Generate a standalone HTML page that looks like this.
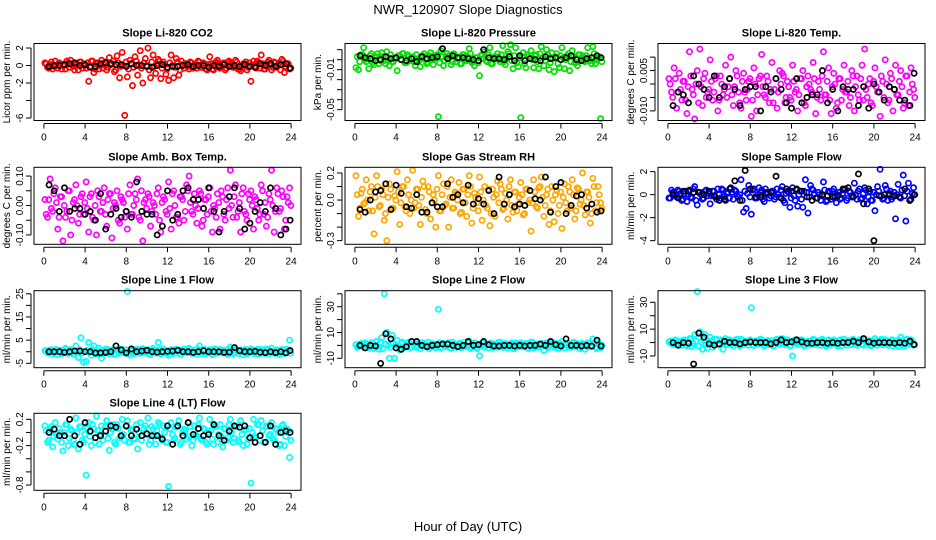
<!DOCTYPE html>
<html><head><meta charset="utf-8"><style>
body{margin:0;background:#fff}
svg{display:block;font-family:"Liberation Sans",sans-serif}
</style></head><body>
<svg id="chart" width="936" height="540" viewBox="0 0 936 540">
<text x="468" y="14" text-anchor="middle" font-size="13">NWR_120907  Slope Diagnostics</text>
<text x="468" y="531" text-anchor="middle" font-size="13">Hour of Day (UTC)</text>
</svg>
<script>
const hoursA=[0.1,0.35,0.6,0.85,1.1,1.35,1.6,1.85,2.1,2.35,2.6,2.85,3.1,3.35,3.6,3.85,4.1,4.35,4.6,4.85,5.1,5.35,5.6,5.85,6.1,6.35,6.6,6.85,7.1,7.35,7.6,7.85,8.1,8.35,8.6,8.85,9.1,9.35,9.6,9.85,10.1,10.35,10.6,10.85,11.1,11.35,11.6,11.85,12.1,12.35,12.6,12.85,13.1,13.35,13.6,13.85,14.1,14.35,14.6,14.85,15.1,15.35,15.6,15.85,16.1,16.35,16.6,16.85,17.1,17.35,17.6,17.85,18.1,18.35,18.6,18.85,19.1,19.35,19.6,19.85,20.1,20.35,20.6,20.85,21.1,21.35,21.6,21.85,22.1,22.35,22.6,22.85,23.1,23.35,23.6,23.85];
const hoursC=[0.22,0.47,0.72,0.97,1.22,1.47,1.72,1.97,2.22,2.47,2.72,2.97,3.22,3.47,3.72,3.97,4.22,4.47,4.72,4.97,5.22,5.47,5.72,5.97,6.22,6.47,6.72,6.97,7.22,7.47,7.72,7.97,8.22,8.47,8.72,8.97,9.22,9.47,9.72,9.97,10.22,10.47,10.72,10.97,11.22,11.47,11.72,11.97,12.22,12.47,12.72,12.97,13.22,13.47,13.72,13.97,14.22,14.47,14.72,14.97,15.22,15.47,15.72,15.97,16.22,16.47,16.72,16.97,17.22,17.47,17.72,17.97,18.22,18.47,18.72,18.97,19.22,19.47,19.72,19.97,20.22,20.47,20.72,20.97,21.22,21.47,21.72,21.97,22.22,22.47,22.72,22.97,23.22,23.47,23.72,23.97];
const hoursB=[0.5,1,1.5,2,2.5,3,3.5,4,4.5,5,5.5,6,6.5,7,7.5,8,8.5,9,9.5,10,10.5,11,11.5,12,12.5,13,13.5,14,14.5,15,15.5,16,16.5,17,17.5,18,18.5,19,19.5,20,20.5,21,21.5,22,22.5,23,23.5,23.9];
const xTicks=[0,4,8,12,16,20,24];

const co2All=[0.3,-0.2,0.1,-0.4,0.5,-0.3,0.2,0.0,-0.4,0.3,0.6,-0.1,0.2,-0.5,0.4,0.1,-0.3,-1.8,0.5,-0.8,0.3,-0.4,0.6,0.1,-0.5,0.9,0.2,-0.7,1.1,-1.4,1.5,-5.7,-1.3,0.6,-2.3,1.0,-1.1,1.7,-2.0,0.8,2.0,-1.4,1.2,-0.9,0.7,-1.5,0.4,-1.0,-1.7,1.2,-1.4,0.8,-1.1,0.5,-0.3,0.2,-0.4,0.3,0.1,-0.3,0.4,-0.2,0.2,-0.5,1.0,-0.4,0.3,0.6,-0.3,0.2,-0.5,0.4,0.3,-0.2,0.6,-0.4,-0.6,0.2,0.4,-0.2,-1.8,0.5,-0.3,0.3,1.2,-0.4,0.2,0.6,-0.5,0.4,-0.2,0.3,0.7,-0.8,0.2,-0.4];
const co2Core=[2,-3,4,-1,0,3,-4,1,5,-2,2,-5,1,4,-3,0,3,-1,5,-4,2,0,-3,4,-2,1,5,-5,3,-1,0,4,-4,2,-2,5,1,-3,3,0,-5,4,-1,2,5,-3,1,-4,3,0,-2,4,-5,1,2,-1,4,-3,0,5,-2,3,-4,1,2,-5,4,0,-1,3,-3,5,1,-2,4,-4,0,2,-5,3,1,-1,5,-3,2,-4,4,0,-2,3,1,-5,5,-1,2,-3];
const co2Sel=[-0.1,0.0,0.0,0.1,0.2,0.3,0.0,0.1,-0.2,-0.1,0.2,0.3,0.2,0.1,0.1,-0.1,0.2,0.0,0.0,-0.1,-0.2,0.0,0.1,-0.2,-0.1,-0.1,0.0,0.1,-0.1,0.0,0.0,-0.2,0.0,-0.1,0.1,-0.1,0.0,-0.1,0.1,-0.1,-0.2,0.2,0.0,0.2,-0.1,0.1,0.2,-0.3];
const presAll=[-0.008,-0.010,0.005,0.012,-0.002,-0.009,0.006,-0.005,0.003,-0.004,0.007,-0.001,0.008,-0.006,-0.002,0.001,-0.011,0.004,0.006,-0.003,0.005,-0.001,0.003,-0.006,0.001,-0.007,0.004,0.000,-0.003,0.007,-0.005,0.002,-0.057,0.009,-0.006,0.003,0.004,-0.005,0.006,-0.002,0.002,-0.004,0.005,-0.001,0.011,-0.003,-0.006,0.002,-0.016,0.005,0.008,-0.002,0.012,-0.004,0.003,0.006,-0.002,0.014,-0.005,0.008,0.015,-0.009,0.012,-0.007,-0.058,0.007,-0.008,0.003,0.009,-0.008,0.005,-0.009,0.013,-0.006,0.010,-0.010,0.007,-0.012,0.006,-0.008,0.012,-0.009,0.004,-0.011,0.009,-0.003,-0.006,0.005,0.004,-0.002,0.012,-0.001,0.013,-0.004,0.002,-0.059];
const presCore=[3,-2,5,0,1,4,-3,2,6,-1,3,-4,2,5,-2,1,4,0,6,-3,3,1,-2,5,-1,2,6,-4,4,0,1,5,-3,3,-1,6,2,-2,4,1,-4,5,0,3,6,-2,2,-3,4,1,-1,5,-4,2,3,0,5,-2,1,6,-1,4,-3,2,3,-4,5,1,0,4,-2,6,2,-1,5,-3,1,3,-4,4,2,0,6,-2,3,-3,5,1,-1,4,2,-4,6,0,3,-2];
const presSel=[0.004,0.002,0.001,-0.001,0.000,0.003,0.001,0.002,0.000,-0.001,0.001,-0.002,0.003,0.001,0.002,0.003,0.011,0.001,0.004,0.002,0.002,0.001,0.000,-0.001,0.010,0.002,0.001,0.001,0.000,0.003,-0.001,0.004,-0.001,0.001,0.000,-0.001,0.003,0.001,0.002,0.000,0.002,0.004,0.000,-0.001,0.001,0.002,0.004,0.002];
const lTempAll=[0.002,-0.003,0.006,-0.009,0.004,-0.006,0.001,-0.011,0.012,-0.002,-0.013,0.005,0.013,-0.008,0.004,-0.003,0.009,-0.006,0.002,-0.010,0.003,-0.004,0.007,-0.001,0.010,-0.008,0.005,-0.003,-0.009,0.004,-0.006,0.001,-0.012,0.006,-0.010,0.002,0.011,-0.004,0.003,-0.007,0.008,-0.002,-0.009,0.005,0.004,-0.007,0.001,-0.005,0.007,-0.003,-0.010,0.002,0.005,-0.008,0.003,-0.002,0.008,-0.011,0.001,-0.006,0.012,-0.004,0.006,-0.011,0.004,-0.009,0.002,-0.006,0.007,-0.003,-0.008,0.005,-0.010,0.003,-0.006,0.007,0.013,-0.005,0.002,-0.008,0.006,-0.003,-0.012,0.001,0.009,-0.007,0.004,-0.010,0.007,-0.004,0.005,-0.009,0.003,-0.008,0.006,-0.002];
const lTempCore=[0,-5,2,-3,-2,1,-6,-1,3,-4,0,-7,-1,2,-5,-2,1,-3,3,-6,0,-2,-5,2,-4,-1,3,-7,1,-3,-2,2,-6,0,-4,3,-1,-5,1,-2,-7,2,-3,0,3,-5,-1,-6,1,-2,-4,2,-7,-1,0,-3,2,-5,-2,3,-4,1,-6,-1,0,-7,2,-2,-3,1,-5,3,-1,-4,2,-6,-2,0,-7,1,-1,-3,3,-5,0,-6,2,-2,-4,1,-1,-7,3,-3,0,-5];
const lTempSel=[-0.008,-0.003,-0.004,-0.007,0.003,0.000,-0.002,-0.005,0.003,-0.005,-0.001,0.002,-0.002,-0.008,-0.002,-0.001,-0.001,-0.010,-0.001,-0.003,0.002,-0.002,-0.007,-0.009,0.002,-0.007,-0.005,-0.004,-0.004,0.005,-0.007,-0.002,-0.010,-0.001,-0.002,-0.002,-0.008,-0.001,-0.009,0.000,-0.003,-0.006,-0.001,-0.002,-0.006,-0.006,-0.008,0.004];
const ambAll=[0.02,-0.04,0.09,-0.02,0.06,-0.08,0.03,-0.12,-0.04,0.05,-0.10,0.01,0.07,-0.06,0.03,-0.03,0.08,-0.09,0.04,-0.05,-0.10,0.03,-0.02,0.06,-0.07,0.04,-0.11,0.01,0.05,-0.06,0.02,-0.04,-0.08,0.07,-0.03,0.04,0.09,-0.05,-0.12,0.02,0.04,-0.07,0.01,-0.03,0.06,-0.09,0.03,-0.02,0.08,-0.08,0.05,-0.04,-0.06,0.03,-0.05,0.07,0.10,-0.02,0.04,-0.06,0.05,-0.07,0.02,-0.03,0.06,-0.09,-0.01,0.04,-0.08,0.03,-0.05,0.06,0.12,-0.04,0.07,-0.02,-0.09,0.06,-0.03,0.04,0.05,-0.08,0.02,-0.05,0.07,-0.03,-0.07,0.04,0.12,-0.09,0.06,-0.02,0.05,-0.08,0.03,0.06];
const ambCore=[-3,2,-1,4,1,-4,3,0,-2,5,-5,2,0,-3,4,1,-1,3,-4,0,5,-2,1,-3,2,4,-1,0,-5,3,1,-2,4,-3,0,2,-4,5,1,-1,3,-2,0,4,-5,1,2,-3,-1,4,0,-4,3,2,-2,5,1,-3,0,-1,4,-5,2,3,-2,0,-4,1,5,-3,2,-1,0,3,-4,1,4,-2,-5,2,0,3,-1,-3,5,1,-4,2,0,-2,4,-1,3,-5,1,0];
const ambSel=[0.07,0.05,-0.02,0.06,-0.02,-0.01,-0.01,-0.03,-0.02,-0.05,0.04,-0.08,-0.03,-0.01,-0.04,-0.02,-0.04,0.08,-0.02,-0.03,-0.03,-0.10,-0.07,0.05,-0.05,-0.03,0.05,0.06,0.02,0.02,-0.01,0.06,-0.02,-0.09,-0.02,0.03,0.06,-0.01,-0.08,-0.06,-0.02,0.01,-0.02,0.06,-0.01,-0.10,-0.08,-0.05];
const rhAll=[0.18,-0.12,0.05,-0.03,0.15,-0.08,0.10,-0.25,0.18,-0.05,0.08,-0.15,-0.30,0.12,-0.06,0.03,0.21,-0.18,0.10,-0.05,0.15,-0.10,0.22,-0.02,0.08,-0.18,0.14,-0.07,0.10,-0.14,0.04,-0.20,0.18,-0.08,0.12,-0.03,-0.20,0.15,-0.06,0.05,0.13,-0.09,0.08,-0.12,0.18,-0.17,0.05,-0.02,0.17,-0.15,0.10,-0.06,-0.19,0.08,-0.12,0.14,0.12,-0.07,0.05,-0.14,0.15,-0.09,0.06,-0.03,0.13,-0.11,0.08,-0.02,-0.23,0.15,-0.05,0.09,0.17,-0.12,0.04,-0.18,0.10,-0.16,0.07,-0.04,-0.21,0.12,-0.08,0.06,0.15,-0.14,0.09,-0.03,0.20,-0.11,0.06,-0.17,0.16,-0.08,0.10,-0.02];
const rhCore=[2,-3,4,-1,0,3,-4,1,5,-2,2,-5,1,4,-3,0,3,-1,5,-4,2,0,-3,4,-2,1,5,-5,3,-1,0,4,-4,2,-2,5,1,-3,3,0,-5,4,-1,2,5,-3,1,-4,3,0,-2,4,-5,1,2,-1,4,-3,0,5,-2,3,-4,1,2,-5,4,0,-1,3,-3,5,1,-2,4,-4,0,2,-5,3,1,-1,5,-3,2,-4,4,0,-2,3,1,-5,5,-1,2,-3];
const rhSel=[-0.07,-0.09,0.00,0.06,0.07,0.12,-0.07,0.11,0.05,-0.05,-0.06,0.04,-0.09,-0.09,-0.02,-0.05,-0.05,0.12,0.02,0.04,-0.02,0.11,-0.03,0.01,-0.03,0.07,-0.10,0.17,-0.03,0.04,-0.05,-0.03,-0.04,0.07,0.01,0.00,0.17,-0.09,0.10,0.13,-0.10,-0.04,0.03,0.04,-0.06,-0.03,-0.09,-0.08];
const sampAll=[-0.3,0.4,0.2,-0.2,0.3,-0.5,0.1,-0.6,0.4,-0.3,0.7,-0.9,0.2,-0.4,0.3,-0.1,-0.8,0.3,-0.2,0.5,-0.3,0.4,-0.5,0.2,0.6,-0.4,0.3,-0.2,1.3,-1.5,-1.2,0.8,-1.7,0.5,-0.3,0.6,0.4,-0.6,0.2,-0.3,0.3,-0.4,0.5,-0.2,0.7,-0.7,0.3,-1.1,0.6,-0.5,-1.0,0.3,-1.1,1.3,-1.6,0.8,0.4,-0.3,0.2,-0.5,1.1,-0.6,0.3,-0.4,0.5,-0.7,0.2,-0.3,0.4,-0.5,0.3,-0.2,1.0,-0.4,0.5,-0.3,0.6,-0.8,0.3,-0.5,-1.4,0.7,2.2,-0.4,0.8,-0.5,0.3,-0.2,-2.1,0.9,-0.3,1.7,-2.3,1.0,-0.4,0.6];
const sampCore=[-3,2,-1,4,1,-4,3,0,-2,5,-5,2,0,-3,4,1,-1,3,-4,0,5,-2,1,-3,2,4,-1,0,-5,3,1,-2,4,-3,0,2,-4,5,1,-1,3,-2,0,4,-5,1,2,-3,-1,4,0,-4,3,2,-2,5,1,-3,0,-1,4,-5,2,3,-2,0,-4,1,5,-3,2,-1,0,3,-4,1,4,-2,-5,2,0,3,-1,-3,5,1,-4,2,0,-2,4,-1,3,-5,1,0];
const sampSel=[0.0,-0.3,0.3,0.3,0.2,0.2,0.0,0.3,-0.1,-0.5,-0.4,0.5,1.2,-0.5,2.1,0.5,-0.2,-0.2,0.1,0.2,1.6,-0.3,0.5,0.3,0.5,0.3,-0.2,-0.5,-0.3,0.0,-0.1,-0.2,-0.1,0.5,0.6,-0.2,1.8,-0.8,0.5,-4.0,-0.1,0.0,0.0,-0.1,-0.2,0.5,-0.5,0.0];
const l1All=[0.5,-0.5,0.8,-1.0,1.0,-1.2,0.6,-0.4,1.5,-0.8,0.9,-1.1,2.5,-2.5,6.0,-4.5,-4.2,4.0,-1.5,2.5,-1.0,1.5,-2.8,0.8,1.2,-0.9,0.5,-1.1,0.8,-0.6,1.0,-0.5,26.0,-1.5,0.6,-0.8,1.0,-0.7,1.3,-0.4,0.9,-1.2,1.5,-0.5,4.0,-1.0,1.2,-0.6,-1.5,0.9,-0.8,1.1,0.7,-1.0,1.2,-0.5,1.5,-0.7,0.8,-1.1,2.5,-0.8,1.0,-0.4,0.9,-1.3,1.2,-0.6,1.0,-0.5,0.7,-1.2,2.0,-0.9,1.1,-0.6,0.8,-1.3,1.0,-0.4,1.2,-0.8,0.6,-1.1,1.0,-0.5,1.2,-0.9,1.6,-0.7,0.8,-1.2,0.9,-0.6,1.1,5.0];
const l1Core=[2,-3,4,-1,0,3,-4,1,5,-2,2,-5,1,4,-3,0,3,-1,5,-4,2,0,-3,4,-2,1,5,-5,3,-1,0,4,-4,2,-2,5,1,-3,3,0,-5,4,-1,2,5,-3,1,-4,3,0,-2,4,-5,1,2,-1,4,-3,0,5,-2,3,-4,1,2,-5,4,0,-1,3,-3,5,1,-2,4,-4,0,2,-5,3,1,-1,5,-3,2,-4,4,0,-2,3,1,-5,5,-1,2,-3];
const l1Sel=[0,0,0,-0.3,0,0.3,0.3,0,0,-0.5,-0.5,-0.3,0,2.5,0.8,-0.5,1.2,0,0.3,0.6,0,-0.2,0,0.2,0.3,0.6,0,0,-0.3,0,0.4,0,0,0,-0.3,-0.2,1.8,0.4,0,0,0.2,-0.2,-0.4,0,-0.4,0,-0.5,0.5];
const l2All=[0.5,-1.0,1.5,-1.5,1.0,-2.0,2.0,-2.5,3.0,-3.0,6.0,40.0,10.0,-10.0,8.0,-10.0,4.0,-3.5,2.5,-1.5,2.0,-2.0,3.0,-1.0,1.5,-2.5,2.0,-1.0,2.5,-1.5,1.0,-2.0,28.0,-2.0,1.5,-1.0,2.0,-2.5,1.0,-1.5,1.5,-2.0,2.5,-1.0,3.0,-1.5,2.0,-2.5,-8.0,2.0,-1.5,1.0,1.5,-2.0,1.0,-1.5,2.5,-1.5,1.5,-2.0,1.0,-2.5,2.0,-1.0,2.0,-1.0,1.5,-2.5,2.5,-2.0,1.0,-1.5,1.5,-4.0,2.0,-1.0,2.0,-1.5,1.5,-2.0,3.0,-2.0,1.0,-1.5,2.0,-1.0,1.5,-2.5,1.5,-3.0,2.0,-1.0,5.0,-1.5,2.0,-2.0];
const l2Core=[-3,2,-1,4,1,-4,3,0,-2,5,-5,2,0,-3,4,1,-1,3,-4,0,5,-2,1,-3,2,4,-1,0,-5,3,1,-2,4,-3,0,2,-4,5,1,-1,3,-2,0,4,-5,1,2,-3,-1,4,0,-4,3,2,-2,5,1,-3,0,-1,4,-5,2,3,-2,0,-4,1,5,-3,2,-1,0,3,-4,1,4,-2,-5,2,0,3,-1,-3,5,1,-4,2,0,-2,4,-1,3,-5,1,0];
const l2Sel=[0,-2,0,-0.5,-14,9,5,-2,-3,-1,3,3,0,-1,0,0.5,1,1,0,-1,0,3,0,0.5,3,0.5,-0.5,-0.5,0,0,-0.5,0,-0.5,0,0,1,0,3,0.5,-0.5,5,0,0,-0.5,0,-0.5,4,-0.5];
const l3All=[0.5,-1.0,1.5,-1.5,1.0,-2.0,2.0,-2.5,3.0,-3.0,6.0,38.0,8.0,-5.0,6.0,-4.0,4.0,-3.5,2.5,-1.5,2.0,-5.0,3.0,-1.0,1.5,-2.5,2.0,-1.0,2.5,-1.5,1.0,-2.0,26.0,-2.0,1.5,-1.0,2.0,-2.5,1.0,-1.5,1.5,-2.0,2.5,-1.0,3.0,-1.5,2.0,-2.5,-10.0,2.0,-1.5,1.0,1.5,-2.0,1.0,-1.5,2.5,-1.5,1.5,-2.0,1.0,-2.5,2.0,-1.0,2.0,-1.0,1.5,-2.5,2.5,-2.0,1.0,-1.5,1.5,-2.0,2.0,-1.0,2.0,-1.5,1.5,-2.0,3.0,-2.0,1.0,-1.5,2.0,-1.0,1.5,-2.5,1.5,-3.0,4.0,-1.0,2.0,-1.5,2.0,-2.0];
const l3Core=[2,-3,4,-1,0,3,-4,1,5,-2,2,-5,1,4,-3,0,3,-1,5,-4,2,0,-3,4,-2,1,5,-5,3,-1,0,4,-4,2,-2,5,1,-3,3,0,-5,4,-1,2,5,-3,1,-4,3,0,-2,4,-5,1,2,-1,4,-3,0,5,-2,3,-4,1,2,-5,4,0,-1,3,-3,5,1,-2,4,-4,0,2,-5,3,1,-1,5,-3,2,-4,4,0,-2,3,1,-5,5,-1,2,-3];
const l3Sel=[0,-2,0,-0.5,-16,7,4,-1,-2,-1,1,0,0,-1,0,0.5,0,0,0,-1,0,2,0,0.5,2,0.5,-0.5,-0.5,0,0,-0.5,0,-0.5,0,0,1,0,3,0.5,-0.5,0,0,0,-0.5,0,-0.5,1,-1.5];
const l4All=[0.10,-0.15,0.05,-0.22,0.15,-0.10,0.00,-0.28,0.12,-0.20,0.05,-0.12,0.22,-0.25,0.08,-0.15,-0.65,0.15,-0.20,0.05,0.25,-0.18,0.10,-0.05,0.18,-0.27,0.05,-0.15,0.12,-0.08,0.20,-0.12,0.18,-0.15,0.05,-0.10,-0.25,0.15,-0.05,0.10,0.22,-0.12,0.05,-0.18,0.15,-0.08,0.10,-0.15,-0.82,0.15,-0.12,0.08,0.18,-0.15,0.05,-0.10,0.15,-0.20,0.10,-0.05,0.22,-0.12,0.05,-0.18,0.20,-0.10,0.10,-0.15,0.12,-0.22,0.05,-0.08,0.20,-0.15,0.10,-0.12,0.18,-0.20,0.05,-0.10,-0.77,0.20,-0.08,0.12,0.18,-0.15,0.10,-0.05,0.15,-0.12,0.05,-0.20,0.10,-0.20,0.05,-0.38];
const l4Core=[1,-4,3,-2,-1,2,-5,0,4,-3,1,-6,0,3,-4,-1,2,-2,4,-5,1,-1,-4,3,-3,0,4,-6,2,-2,-1,3,-5,1,-3,4,0,-4,2,-1,-6,3,-2,1,4,-4,0,-5,2,-1,-3,3,-6,0,1,-2,3,-4,-1,4,-3,2,-5,0,1,-6,3,-1,-2,2,-4,4,0,-3,3,-5,-1,1,-6,2,0,-2,4,-4,1,-5,3,-1,-3,2,0,-6,4,-2,1,-4];
const l4Sel=[0.00,0.05,-0.05,-0.05,0.20,-0.05,-0.18,0.15,0.02,-0.08,-0.05,0.02,0.10,0.08,-0.05,0.10,-0.05,0.05,-0.05,-0.02,-0.05,-0.05,-0.10,0.10,-0.18,0.10,-0.05,0.15,-0.03,0.06,-0.05,-0.03,0.12,-0.05,-0.12,0.02,0.10,0.08,0.10,-0.08,-0.15,-0.05,-0.15,0.10,-0.18,0.00,0.02,0.00];

const co2Ticks=[2,0,-2,-4,-6], co2Labels=["2","0","-2","","-6"];
const presTicks=[0.01,0,-0.01,-0.02,-0.03,-0.04,-0.05], presLabels=["","","-0.01","","","","-0.05"];
const lTempTicks=[0.010,0.005,0,-0.005,-0.010], lTempLabels=["","0.005","","","-0.010"];
const ambTicks=[0.10,0.05,0,-0.05,-0.10], ambLabels=["0.10","","0.00","","-0.10"];
const rhTicks=[0.2,0.1,0,-0.1,-0.2,-0.3], rhLabels=["0.2","","0.0","","","-0.3"];
const sampTicks=[2,0,-2,-4], sampLabels=["2","0","-2","-4"];
const l1Ticks=[25,20,15,10,5,0,-5], l1Labels=["25","","15","","5","","-5"];
const l2Ticks=[40,30,20,10,0,-10], l2Labels=["","30","","10","","-10"];
const l3Ticks=[30,20,10,0,-10], l3Labels=["30","","10","","-10"];
const l4Ticks=[0.2,0,-0.2,-0.4,-0.6,-0.8], l4Labels=["0.2","","-0.2","","","-0.8"];

const panels=[
 {id:"co2",title:"Slope Li-820 CO2",yl:"Licor ppm per min.",col:0,row:0,ymin:-5.96,ymax:2.19,all:co2All,core:co2Core,cu:0.1,sel:co2Sel,c:"#ff0000",t:co2Ticks,tl:co2Labels},
 {id:"pressure",title:"Slope Li-820 Pressure",yl:"kPa per min.",col:1,row:0,ymin:-0.058,ymax:0.0133,all:presAll,core:presCore,cu:0.001,sel:presSel,c:"#00e000",t:presTicks,tl:presLabels},
 {id:"li820-temp",title:"Slope Li-820 Temp.",yl:"degrees C per min.",col:2,row:0,ymin:-0.0125,ymax:0.014,all:lTempAll,core:lTempCore,cu:0.001,sel:lTempSel,c:"#ff00ff",t:lTempTicks,tl:lTempLabels},
 {id:"amb-box-temp",title:"Slope Amb. Box Temp.",yl:"degrees C per min.",col:0,row:1,ymin:-0.122,ymax:0.12,all:ambAll,core:ambCore,cu:0.01,sel:ambSel,c:"#ff00ff",t:ambTicks,tl:ambLabels},
 {id:"gas-stream-rh",title:"Slope Gas Stream RH",yl:"percent per min.",col:1,row:1,ymin:-0.306,ymax:0.221,all:rhAll,core:rhCore,cu:0.02,sel:rhSel,c:"#ffa500",t:rhTicks,tl:rhLabels},
 {id:"sample-flow",title:"Slope Sample Flow",yl:"ml/min per min.",col:2,row:1,ymin:-4.07,ymax:2.13,all:sampAll,core:sampCore,cu:0.1,sel:sampSel,c:"#0000ff",t:sampTicks,tl:sampLabels},
 {id:"line1-flow",title:"Slope Line 1 Flow",yl:"ml/min per min.",col:0,row:2,ymin:-5.66,ymax:25.1,all:l1All,core:l1Core,cu:0.2,sel:l1Sel,c:"#00ffff",t:l1Ticks,tl:l1Labels},
 {id:"line2-flow",title:"Slope Line 2 Flow",yl:"ml/min per min.",col:1,row:2,ymin:-15.1,ymax:40.2,all:l2All,core:l2Core,cu:0.5,sel:l2Sel,c:"#00ffff",t:l2Ticks,tl:l2Labels},
 {id:"line3-flow",title:"Slope Line 3 Flow",yl:"ml/min per min.",col:2,row:2,ymin:-16.6,ymax:36.5,all:l3All,core:l3Core,cu:0.5,sel:l3Sel,c:"#00ffff",t:l3Ticks,tl:l3Labels},
 {id:"line4-flow",title:"Slope Line 4 (LT) Flow",yl:"ml/min per min.",col:0,row:3,ymin:-0.837,ymax:0.248,all:l4All,core:l4Core,cu:0.03,sel:l4Sel,c:"#00ffff",t:l4Ticks,tl:l4Labels}
];
const colLeft=[34,345,658], rowTop=[43.5,167.3,290.7,413.3], W=267, H=77;
const NS="http://www.w3.org/2000/svg";
const svg=document.getElementById('chart');
function mk(tag,attrs,parent){const e=document.createElementNS(NS,tag);for(const k in attrs)e.setAttribute(k,attrs[k]);parent.appendChild(e);return e;}
panels.forEach(p=>{
  const L=colLeft[p.col],T=rowTop[p.row];
  const g=mk('g',{},svg);
  
  
  const xS=v=>L+W*(0.04+v/24)/1.08;
  const yS=v=>T+H-H*(0.04/1.08+(v-p.ymin)/(p.ymax-p.ymin)/1.08);
  const ttl=mk('text',{x:L+W/2,y:T-7,'text-anchor':'middle','font-size':11,'font-weight':'bold'},g);
  ttl.textContent=p.title;
  
  
  const yl=mk('text',{transform:`translate(${L-24},${T+H/2}) rotate(-90)`,'text-anchor':'middle','font-size':10},g);
  yl.textContent=p.yl;
  
  
  const pg=mk('g',{fill:'none','stroke-width':1.7},g);
  
  
  p.all.forEach((v,i)=>{if(hoursA[i]===undefined)return;
    const c=mk('circle',{cx:xS(hoursA[i]),cy:yS(v),r:2.6,stroke:p.c},pg);
    
    });
  p.core.forEach((v,i)=>{if(hoursC[i]===undefined)return;
    const c=mk('circle',{cx:xS(hoursC[i]),cy:yS(v*p.cu),r:2.6,stroke:p.c},pg);
    
    });
  p.sel.forEach((v,i)=>{if(hoursB[i]===undefined)return;
    const c=mk('circle',{cx:xS(hoursB[i]),cy:yS(v),r:2.6,stroke:'#000'},pg);
    
    });
  const box=mk('rect',{x:L,y:T,width:W,height:H,fill:'none',stroke:'#000','stroke-width':1},g);
  
  
  const xa=mk('g',{'font-size':10,'text-anchor':'middle'},g);
  
  
  mk('line',{x1:xS(0),x2:xS(24),y1:T+H+3,y2:T+H+3,stroke:'#000'},xa);
  xTicks.forEach(t=>{mk('line',{x1:xS(t),x2:xS(t),y1:T+H+3,y2:T+H+8,stroke:'#000'},xa);
    const tx=mk('text',{x:xS(t),y:T+H+20},xa);tx.textContent=t;
    
    });
  const ya=mk('g',{'font-size':10,'text-anchor':'middle'},g);
  
  
  const ys=p.t.map(yS);
  mk('line',{x1:L-3,x2:L-3,y1:Math.min(...ys),y2:Math.max(...ys),stroke:'#000'},ya);
  p.t.forEach((t,i)=>{const y=yS(t);
    mk('line',{x1:L-3,x2:L-8,y1:y,y2:y,stroke:'#000'},ya);
    if(p.tl[i]){const tx=mk('text',{transform:`translate(${L-11},${y}) rotate(-90)`},ya);tx.textContent=p.tl[i];
      
      }});
});
</script>
</body></html>
